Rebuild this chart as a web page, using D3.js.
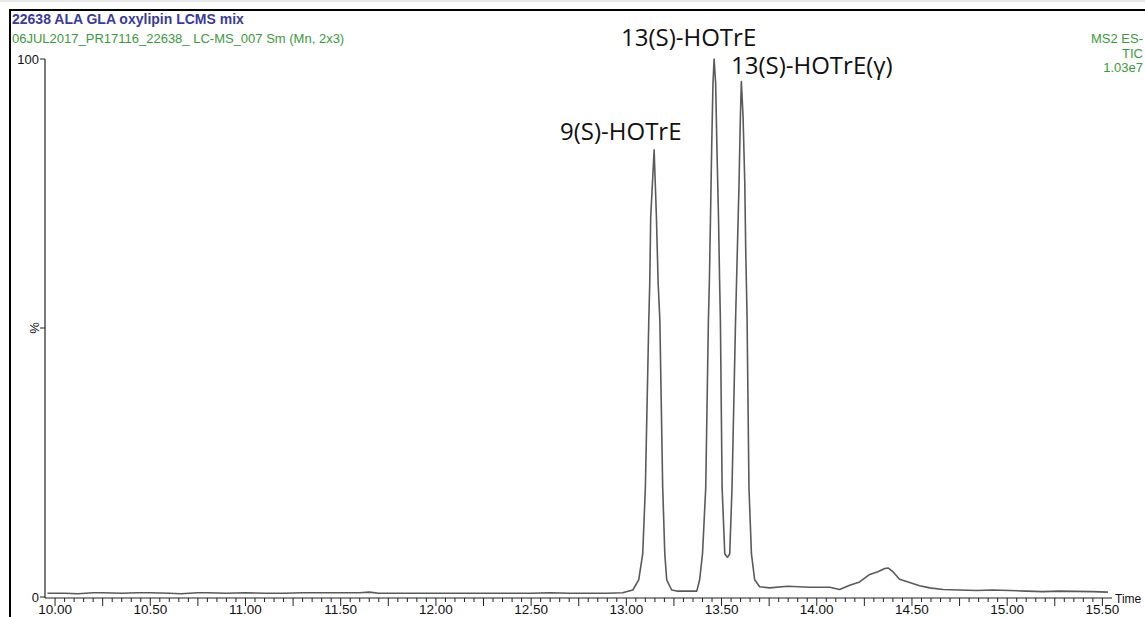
<!DOCTYPE html>
<html>
<head>
<meta charset="utf-8">
<style>
  body { margin: 0; background: #fff; overflow: hidden; }
  svg { display: block; }
</style>
</head>
<body>
<div id="container"></div>
<script src="https://d3js.org/d3.v7.min.js"></script>
<script>
  // retention time (min) and relative intensity (%)
  const timeMin = [
    9.96, 10.05, 10.12, 10.2, 10.25, 10.35, 10.43, 10.5, 10.6, 10.66, 10.75, 10.8, 10.9,
    11.0, 11.1, 11.2, 11.3, 11.4, 11.5, 11.6, 11.65, 11.7, 11.8, 11.9, 12.0, 12.1,
    12.2, 12.3, 12.4, 12.5, 12.6, 12.7, 12.8, 12.9, 12.98,
    13.034, 13.065, 13.086, 13.100, 13.118, 13.123, 13.128, 13.146,
    13.158, 13.167, 13.176, 13.191, 13.202, 13.212, 13.238, 13.265, 13.317, 13.370,
    13.385, 13.400, 13.417, 13.431, 13.436, 13.442, 13.448, 13.455, 13.461,
    13.469, 13.476, 13.484, 13.490, 13.494, 13.503, 13.517, 13.531,
    13.543, 13.555, 13.574, 13.583, 13.592, 13.599, 13.604,
    13.613, 13.622, 13.627, 13.634, 13.644, 13.657, 13.674, 13.700,
    13.753, 13.847, 13.963, 14.068, 14.120, 14.173, 14.225, 14.278, 14.321, 14.357,
    14.374, 14.400, 14.435, 14.488, 14.540, 14.593, 14.663, 14.750, 14.838, 14.924,
    15.013, 15.100, 15.186, 15.275, 15.363, 15.450, 15.529
  ];
  const intensityPct = [
    0.7, 0.7, 0.6, 0.8, 0.8, 0.7, 0.8, 0.8, 0.7, 0.6, 0.8, 0.8, 0.7,
    0.8, 0.7, 0.7, 0.8, 0.8, 0.8, 0.8, 0.9, 0.7, 0.7, 0.7, 0.7, 0.7,
    0.7, 0.7, 0.7, 0.7, 0.8, 0.7, 0.7, 0.7, 0.8,
    1.3, 3.2, 8.0, 20.3, 51.5, 58.4, 70.6, 83.1,
    70.6, 58.4, 51.5, 20.3, 8.0, 3.2, 1.3, 1.1, 1.1, 1.1,
    3.2, 8.0, 20.3, 51.5, 58.4, 70.6, 83.1, 95.5, 100,
    95.5, 83.1, 70.6, 58.4, 51.5, 20.3, 8.0, 7.4,
    8.0, 20.3, 52.0, 64.5, 77.0, 89.3, 95.8,
    89.3, 77.0, 64.5, 52.0, 20.3, 8.0, 3.2, 1.9,
    1.7, 2.0, 1.8, 1.8, 1.4, 2.2, 2.8, 4.2, 4.7, 5.3,
    5.4, 4.7, 3.3, 2.7, 2.1, 1.7, 1.4, 1.3, 1.2, 1.3,
    1.2, 1.1, 1.0, 1.1, 1.05, 1.0, 0.9
  ];

  const xTickLabels = ["10.00", "10.50", "11.00", "11.50", "12.00", "12.50", "13.00",
                       "13.50", "14.00", "14.50", "15.00", "15.50"];
  const yTickValues = [0, 50, 100];
  const yTickLabels = ["0", "", "100"];

  const peakNames = ["9(S)-HOTrE", "13(S)-HOTrE", "13(S)-HOTrE(γ)"];
  const peakLabelPos = [[560, 140], [621, 46], [731, 74]]; // text anchors in px

  const infoLines = ["MS2 ES-", "TIC", "1.03e7"];

  const W = 1145, H = 617;
  const svg = d3.select("#container").append("svg")
    .attr("width", W).attr("height", H)
    .attr("font-family", "'Liberation Sans', Arial, sans-serif");

  // frame lines at top / left
  svg.append("line").attr("x1", 0).attr("x2", W).attr("y1", 1).attr("y2", 1)
    .attr("stroke", "#d0d0d0").attr("stroke-width", 1);
  svg.append("line").attr("x1", 9).attr("x2", W).attr("y1", 10).attr("y2", 10)
    .attr("stroke", "#000").attr("stroke-width", 2);
  svg.append("line").attr("x1", 10).attr("x2", 10).attr("y1", 9).attr("y2", H)
    .attr("stroke", "#000").attr("stroke-width", 2);

  // header
  svg.append("text").attr("x", 12).attr("y", 24)
    .attr("font-size", 14).attr("font-weight", "bold").attr("fill", "#3a3a9c")
    .text("22638 ALA GLA oxylipin LCMS mix");
  svg.append("text").attr("x", 12).attr("y", 43)
    .attr("font-size", 13).attr("fill", "#3b9a3b")
    .text("06JUL2017_PR17116_22638_ LC-MS_007 Sm (Mn, 2x3)");

  // top-right info block, right aligned so nothing runs off the page
  svg.append("g").attr("font-size", 13).attr("fill", "#3b9a3b")
    .selectAll("text").data(infoLines).enter().append("text")
    .attr("x", 1143).attr("y", (d, i) => 43 + i * 14.5)
    .attr("text-anchor", "end")
    .text(d => d);

  const x = d3.scaleLinear().domain([9.955, 15.54]).range([46.5, 1110]);
  const y = d3.scaleLinear().domain([0, 100]).range([597, 59]);

  // x axis: long ticks every 0.25, short every 0.05, labels every 0.5
  const xAxisY = 598;
  const minor = d3.range(10, 15.5001, 0.05).map(v => +v.toFixed(2));
  const xg = svg.append("g").attr("transform", `translate(0,${xAxisY})`);
  xg.append("line").attr("x1", 45).attr("x2", 1112).attr("y1", 0).attr("y2", 0)
    .attr("stroke", "#222").attr("stroke-width", 1.2);
  xg.selectAll("line.tk").data(minor).enter().append("line")
    .attr("class", "tk")
    .attr("x1", d => x(d)).attr("x2", d => x(d))
    .attr("y1", 0)
    .attr("y2", d => (Math.abs(d * 4 - Math.round(d * 4)) < 1e-6 ? 8 : 4))
    .attr("stroke", "#222").attr("stroke-width", 1);
  xg.selectAll("text").data(xTickLabels).enter().append("text")
    .attr("x", d => x(+d)).attr("y", 16)
    .attr("text-anchor", "middle").attr("font-size", 13.5).attr("fill", "#111")
    .text(d => d);
  svg.append("text").attr("x", 1115).attr("y", 603)
    .attr("font-size", 12).attr("fill", "#111").text("Time");

  // y axis
  const yg = svg.append("g");
  yg.append("line").attr("x1", 45).attr("x2", 45).attr("y1", y(100)).attr("y2", xAxisY)
    .attr("stroke", "#222").attr("stroke-width", 1.2);
  yg.selectAll("line.tk").data(yTickValues).enter().append("line")
    .attr("class", "tk")
    .attr("x1", 40).attr("x2", 45).attr("y1", d => y(d)).attr("y2", d => y(d))
    .attr("stroke", "#222").attr("stroke-width", 1);
  yg.selectAll("text").data(yTickValues).enter().append("text")
    .attr("x", 39).attr("y", d => y(d) + 5)
    .attr("text-anchor", "end").attr("font-size", 13).attr("fill", "#111")
    .text((d, i) => yTickLabels[i]);
  svg.append("text")
    .attr("transform", `translate(39,${y(50)}) rotate(-90)`)
    .attr("text-anchor", "middle").attr("font-size", 13).attr("fill", "#111")
    .text("%");

  // chromatogram trace
  const pts = timeMin.map((t, i) => [t, intensityPct[i]]);
  svg.append("path").datum(pts)
    .attr("fill", "none").attr("stroke", "#5a5a5a").attr("stroke-width", 1.6)
    .attr("stroke-linejoin", "round")
    .attr("d", d3.line().x(d => x(d[0])).y(d => y(d[1])));

  // peak annotations
  svg.append("g").selectAll("text").data(peakNames).enter().append("text")
    .attr("x", (d, i) => peakLabelPos[i][0]).attr("y", (d, i) => peakLabelPos[i][1])
    .attr("font-family", "'Open Sans', sans-serif").attr("font-size", 24).attr("fill", "#111")
    .text(d => d);
</script>
</body>
</html>
